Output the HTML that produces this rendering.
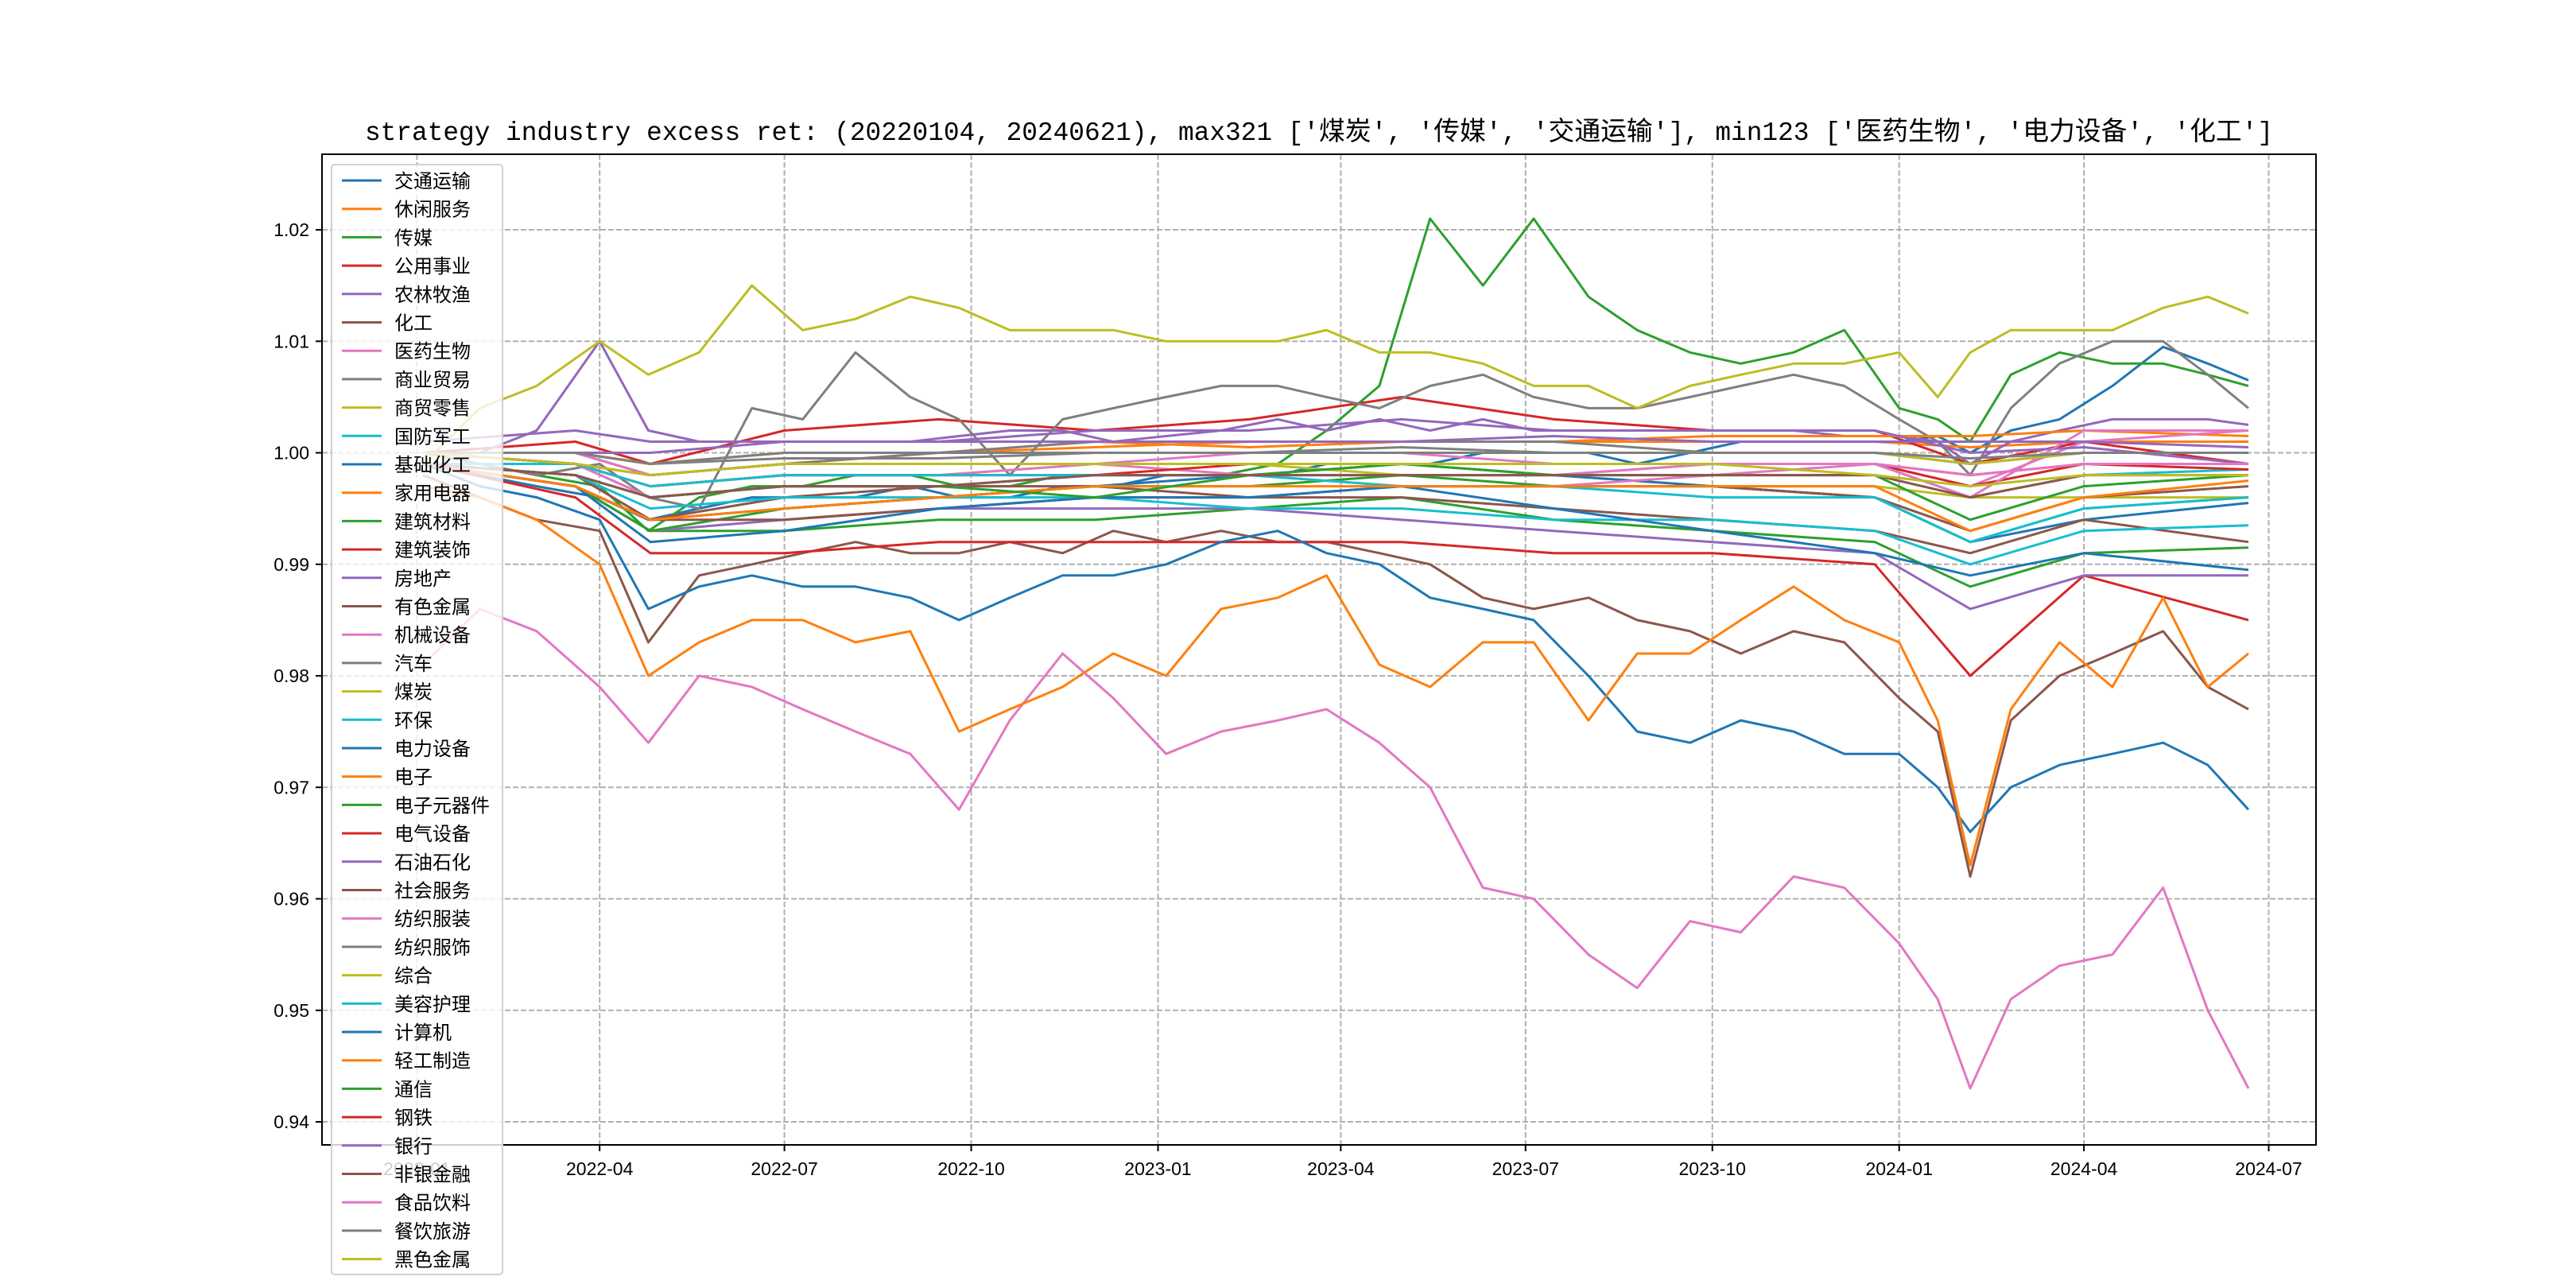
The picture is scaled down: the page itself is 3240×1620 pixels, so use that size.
<!DOCTYPE html>
<html><head><meta charset="utf-8">
<style>
html,body{margin:0;padding:0;background:#fff;}
svg{display:block;font-family:"Liberation Sans","Noto Sans CJK SC",sans-serif;}
</style></head>
<body>
<svg id="chart" width="3240" height="1620" viewBox="0 0 3240 1620" xmlns="http://www.w3.org/2000/svg">
<rect x="0" y="0" width="3240" height="1620" fill="#fff"/>
<text x="1659" y="176" text-anchor="middle" font-size="33" textLength="2400" lengthAdjust="spacingAndGlyphs" fill="#000" style="font-family:'Liberation Mono','Noto Sans CJK SC',monospace">strategy industry excess ret: (20220104, 20240621), max321 ['煤炭', '传媒', '交通运输'], min123 ['医药生物', '电力设备', '化工']</text>
<defs><clipPath id="plotclip"><rect x="405" y="194" width="2508" height="1246"/></clipPath></defs>
<g id="grid"></g>
<g id="ticks"></g>
<g id="lines" clip-path="url(#plotclip)"></g>
<rect x="405" y="194" width="2508" height="1246" fill="none" stroke="#000" stroke-width="2"/>
<g id="legend"></g>
</svg>
<script>
const colors = ['#1f77b4','#ff7f0e','#2ca02c','#d62728','#9467bd','#8c564b','#e377c2','#7f7f7f','#bcbd22','#17becf'];
const industries = ['交通运输','休闲服务','传媒','公用事业','农林牧渔','化工','医药生物','商业贸易','商贸零售','国防军工','基础化工','家用电器','建筑材料','建筑装饰','房地产','有色金属','机械设备','汽车','煤炭','环保','电力设备','电子','电子元器件','电气设备','石油石化','社会服务','纺织服装','纺织服饰','综合','美容护理','计算机','轻工制造','通信','钢铁','银行','非银金融','食品饮料','餐饮旅游','黑色金属'];
const mainDates = ['2022-01-04','2022-02-01','2022-03-01','2022-04-01','2022-04-25','2022-05-20','2022-06-15','2022-07-10','2022-08-05','2022-09-01','2022-09-25','2022-10-20','2022-11-15','2022-12-10','2023-01-05','2023-02-01','2023-03-01','2023-03-25','2023-04-20','2023-05-15','2023-06-10','2023-07-05','2023-08-01','2023-08-25','2023-09-20','2023-10-15','2023-11-10','2023-12-05','2024-01-01','2024-01-20','2024-02-05','2024-02-25','2024-03-20','2024-04-15','2024-05-10','2024-06-01','2024-06-21'];
const fillDates = ['2022-01-04','2022-03-20','2022-04-26','2022-07-01','2022-09-15','2022-12-01','2023-02-15','2023-05-01','2023-07-15','2023-10-01','2023-12-20','2024-02-05','2024-04-01','2024-06-21'];
const s交通运输 = [0.999,0.998,0.997,0.996,0.994,0.995,0.996,0.996,0.996,0.997,0.996,0.996,0.997,0.997,0.998,0.998,0.998,0.999,0.999,0.999,1.0,1.0,1.0,0.999,1.0,1.001,1.001,1.001,1.001,1.0015,1.0,1.002,1.003,1.006,1.0095,1.008,1.0065];
const s传媒 = [1.0,0.999,0.998,0.997,0.993,0.996,0.997,0.997,0.998,0.998,0.997,0.997,0.998,0.998,0.998,0.998,0.999,1.002,1.006,1.021,1.015,1.021,1.014,1.011,1.009,1.008,1.009,1.011,1.004,1.003,1.001,1.007,1.009,1.008,1.008,1.007,1.006];
const s农林牧渔 = [1.0,1.0,1.002,1.010,1.002,1.001,1.001,1.001,1.001,1.001,1.0015,1.002,1.002,1.001,1.0015,1.002,1.003,1.002,1.003,1.002,1.003,1.002,1.002,1.002,1.002,1.002,1.002,1.0015,1.0015,1.001,0.999,1.001,1.002,1.003,1.003,1.003,1.0025];
const s化工 = [0.998,0.996,0.994,0.993,0.983,0.989,0.990,0.991,0.992,0.991,0.991,0.992,0.991,0.993,0.992,0.993,0.992,0.992,0.991,0.990,0.987,0.986,0.987,0.985,0.984,0.982,0.984,0.983,0.978,0.975,0.962,0.976,0.980,0.982,0.984,0.979,0.977];
const s医药生物 = [0.981,0.986,0.984,0.979,0.974,0.980,0.979,0.977,0.975,0.973,0.968,0.976,0.982,0.978,0.973,0.975,0.976,0.977,0.974,0.970,0.961,0.960,0.955,0.952,0.958,0.957,0.962,0.961,0.956,0.951,0.943,0.951,0.954,0.955,0.961,0.950,0.943];
const s商业贸易 = [1.0,0.999,0.998,0.999,0.996,0.995,1.004,1.003,1.009,1.005,1.003,0.998,1.003,1.004,1.005,1.006,1.006,1.005,1.004,1.006,1.007,1.005,1.004,1.004,1.005,1.006,1.007,1.006,1.003,1.001,0.998,1.004,1.008,1.010,1.010,1.007,1.004];
const s煤炭 = [0.999,1.004,1.006,1.010,1.007,1.009,1.015,1.011,1.012,1.014,1.013,1.011,1.011,1.011,1.010,1.010,1.010,1.011,1.009,1.009,1.008,1.006,1.006,1.004,1.006,1.007,1.008,1.008,1.009,1.005,1.009,1.011,1.011,1.011,1.013,1.014,1.0125];
const s电力设备 = [0.999,0.997,0.996,0.994,0.986,0.988,0.989,0.988,0.988,0.987,0.985,0.987,0.989,0.989,0.990,0.992,0.993,0.991,0.990,0.987,0.986,0.985,0.980,0.975,0.974,0.976,0.975,0.973,0.973,0.970,0.966,0.970,0.972,0.973,0.974,0.972,0.968];
const s电子 = [0.997,0.996,0.994,0.990,0.980,0.983,0.985,0.985,0.983,0.984,0.975,0.977,0.979,0.982,0.980,0.986,0.987,0.989,0.981,0.979,0.983,0.983,0.976,0.982,0.982,0.985,0.988,0.985,0.983,0.976,0.963,0.977,0.983,0.979,0.987,0.979,0.982];
const s休闲服务 = [1.0,1.0,0.998,0.999,1.0,1.0005,1.001,1.001,1.001,1.001,1.001,1.0005,1.001,1.001];
const s公用事业 = [1.0,1.001,0.999,1.002,1.003,1.002,1.003,1.005,1.003,1.002,1.002,0.999,1.001,0.999];
const s商贸零售 = [1.0,0.999,0.997,0.998,0.998,0.999,0.999,0.998,0.998,0.997,0.997,0.996,0.996,0.996];
const s国防军工 = [1.0,0.999,0.996,0.997,0.997,0.998,0.998,0.998,0.998,0.999,0.999,0.996,0.998,0.9985];
const s基础化工 = [0.999,0.997,0.994,0.995,0.996,0.997,0.998,0.999,0.998,0.997,0.996,0.992,0.994,0.9955];
const s家用电器 = [1.0,1.0,0.999,1.0,1.0,1.001,1.0005,1.001,1.001,1.0015,1.0015,1.0015,1.002,1.0015];
const s建筑材料 = [0.999,0.997,0.993,0.993,0.994,0.994,0.995,0.996,0.994,0.993,0.992,0.988,0.991,0.9915];
const s建筑装饰 = [0.999,0.996,0.991,0.991,0.992,0.992,0.992,0.992,0.991,0.991,0.990,0.980,0.989,0.985];
const s房地产 = [0.999,0.997,0.993,0.994,0.995,0.995,0.995,0.994,0.993,0.992,0.991,0.986,0.989,0.989];
const s有色金属 = [0.999,0.998,0.994,0.996,0.997,0.997,0.996,0.996,0.995,0.994,0.993,0.991,0.994,0.992];
const s机械设备 = [1.0,0.999,0.997,0.998,0.998,0.999,0.998,0.998,0.998,0.999,0.999,0.997,1.001,1.002];
const s汽车 = [1.0,1.0,0.999,0.9995,0.9995,1.0,1.0,1.0005,1.0,1.0,1.0,0.999,1.0,1.0];
const s环保 = [0.999,0.998,0.995,0.996,0.996,0.996,0.995,0.995,0.994,0.994,0.993,0.990,0.993,0.9935];
const s电子元器件 = [0.999,0.997,0.993,0.995,0.996,0.997,0.997,0.998,0.997,0.997,0.996,0.992,0.995,0.996];
const s电气设备 = [1.0,0.999,0.997,0.998,0.998,0.998,0.999,0.999,0.999,0.999,0.999,0.997,0.999,0.999];
const s石油石化 = [1.001,1.002,1.001,1.001,1.001,1.002,1.002,1.003,1.002,1.002,1.002,1.0,1.0005,0.999];
const s社会服务 = [0.999,0.997,0.994,0.994,0.995,0.996,0.996,0.997,0.997,0.997,0.996,0.993,0.996,0.997];
const s纺织服装 = [1.0,0.999,0.996,0.997,0.997,0.998,0.998,0.997,0.997,0.998,0.999,0.996,1.002,1.002];
const s纺织服饰 = [1.0,1.0,0.998,0.999,1.0,1.001,1.001,1.001,1.001,1.0,1.0,0.999,1.0,1.0];
const s综合 = [1.0,1.0,0.999,1.0,1.0,1.0,1.0,1.0,1.0,1.0,1.0,0.999,1.0,1.0];
const s美容护理 = [0.999,0.999,0.997,0.998,0.998,0.998,0.998,0.997,0.997,0.996,0.996,0.992,0.995,0.996];
const s计算机 = [0.999,0.997,0.992,0.993,0.995,0.996,0.996,0.997,0.995,0.993,0.991,0.989,0.991,0.9895];
const s轻工制造 = [0.999,0.997,0.994,0.995,0.996,0.997,0.997,0.997,0.997,0.997,0.997,0.993,0.996,0.9975];
const s通信 = [0.999,0.998,0.996,0.997,0.997,0.996,0.998,0.999,0.998,0.998,0.998,0.994,0.997,0.998];
const s钢铁 = [1.0,0.999,0.998,0.999,0.999,0.999,0.999,0.999,0.999,0.999,0.999,0.998,0.999,0.9985];
const s银行 = [1.0,1.0,1.0,1.001,1.001,1.001,1.001,1.001,1.0015,1.001,1.001,1.001,1.001,1.0005];
const s非银金融 = [0.999,0.998,0.996,0.997,0.997,0.998,0.998,0.998,0.998,0.998,0.998,0.996,0.998,0.998];
const s食品饮料 = [1.0,1.0,0.998,0.999,0.999,0.999,1.0,1.0,0.999,0.999,0.999,0.998,0.999,0.999];
const s餐饮旅游 = [1.0,1.0,0.999,1.0,1.0,1.0,1.0,1.0,1.0,1.0,1.0,0.9995,1.0,1.0];
const s黑色金属 = [1.0,0.999,0.998,0.999,0.999,0.999,0.999,0.999,0.999,0.999,0.998,0.997,0.998,0.998];
const yTicks = [0.94,0.95,0.96,0.97,0.98,0.99,1.00,1.01,1.02];
const yTickLabels = ['0.94','0.95','0.96','0.97','0.98','0.99','1.00','1.01','1.02'];
const xTicks = ['2022-01-01','2022-04-01','2022-07-01','2022-10-01','2023-01-01','2023-04-01','2023-07-01','2023-10-01','2024-01-01','2024-04-01','2024-07-01'];
const xTickLabels = ['2022-01','2022-04','2022-07','2022-10','2023-01','2023-04','2023-07','2023-10','2024-01','2024-04','2024-07'];

const seriesMap = {'交通运输':[s交通运输,mainDates],'休闲服务':[s休闲服务,fillDates],'传媒':[s传媒,mainDates],'公用事业':[s公用事业,fillDates],'农林牧渔':[s农林牧渔,mainDates],'化工':[s化工,mainDates],'医药生物':[s医药生物,mainDates],'商业贸易':[s商业贸易,mainDates],'商贸零售':[s商贸零售,fillDates],'国防军工':[s国防军工,fillDates],'基础化工':[s基础化工,fillDates],'家用电器':[s家用电器,fillDates],'建筑材料':[s建筑材料,fillDates],'建筑装饰':[s建筑装饰,fillDates],'房地产':[s房地产,fillDates],'有色金属':[s有色金属,fillDates],'机械设备':[s机械设备,fillDates],'汽车':[s汽车,fillDates],'煤炭':[s煤炭,mainDates],'环保':[s环保,fillDates],'电力设备':[s电力设备,mainDates],'电子':[s电子,mainDates],'电子元器件':[s电子元器件,fillDates],'电气设备':[s电气设备,fillDates],'石油石化':[s石油石化,fillDates],'社会服务':[s社会服务,fillDates],'纺织服装':[s纺织服装,fillDates],'纺织服饰':[s纺织服饰,fillDates],'综合':[s综合,fillDates],'美容护理':[s美容护理,fillDates],'计算机':[s计算机,fillDates],'轻工制造':[s轻工制造,fillDates],'通信':[s通信,fillDates],'钢铁':[s钢铁,fillDates],'银行':[s银行,fillDates],'非银金融':[s非银金融,fillDates],'食品饮料':[s食品饮料,fillDates],'餐饮旅游':[s餐饮旅游,fillDates],'黑色金属':[s黑色金属,fillDates]};

const NS = 'http://www.w3.org/2000/svg';
const PL=405, PR=2913, PT=194, PB=1440;
const T0 = Date.parse('2022-04-01'), T1 = Date.parse('2024-07-01');
const X0 = 754.2, X1 = 2853.5;
function xScale(d){ return X0 + (Date.parse(d)-T0)/(T1-T0)*(X1-X0); }
function yScale(v){ return 289 + (1.02 - v)*14025; }
function mk(tag, attrs){ const e=document.createElementNS(NS,tag); for(const k in attrs) e.setAttribute(k,attrs[k]); return e; }

const grid=document.getElementById('grid'), ticks=document.getElementById('ticks');
yTicks.forEach((v,i)=>{
  const y=yScale(v);
  const g=mk('line',{x1:PL,x2:PR,y1:y,y2:y,stroke:'#b0b0b0','stroke-width':2,'stroke-dasharray':'7,3'});
  
  
  grid.appendChild(g);
  const t=mk('line',{x1:PL-8,x2:PL,y1:y,y2:y,stroke:'#000','stroke-width':2});
  
  
  ticks.appendChild(t);
  const l=mk('text',{x:PL-16,y:y+8,'text-anchor':'end','font-size':23,fill:'#000'});
  
  
  l.textContent=yTickLabels[i]; ticks.appendChild(l);
});
xTicks.forEach((d,i)=>{
  const x=xScale(d);
  const g=mk('line',{x1:x,x2:x,y1:PT,y2:PB,stroke:'#b0b0b0','stroke-width':2,'stroke-dasharray':'7,3'});
  
  
  grid.appendChild(g);
  const t=mk('line',{x1:x,x2:x,y1:PB,y2:PB+8,stroke:'#000','stroke-width':2});
  
  
  ticks.appendChild(t);
  const l=mk('text',{x:x,y:PB+38,'text-anchor':'middle','font-size':23,fill:'#000'});
  
  
  l.textContent=xTickLabels[i]; ticks.appendChild(l);
});

const linesG=document.getElementById('lines');
industries.forEach((name,i)=>{
  const [vals,dates]=seriesMap[name];
  const pts=vals.map((v,k)=>xScale(dates[k]).toFixed(1)+','+yScale(v).toFixed(1)).join(' ');
  const p=mk('polyline',{points:pts,fill:'none',stroke:colors[i%10],'stroke-width':3,'stroke-linejoin':'round'});
  
  
  linesG.appendChild(p);
});

const leg=document.getElementById('legend');
const box=mk('rect',{x:417,y:207,width:215,height:1396,rx:4,fill:'#fff','fill-opacity':0.8,stroke:'#d0d0d0','stroke-width':2});


leg.appendChild(box);
industries.forEach((name,i)=>{
  const cy=227+i*35.7;
  const ln=mk('line',{x1:430,x2:480,y1:cy,y2:cy,stroke:colors[i%10],'stroke-width':3});
  
  
  leg.appendChild(ln);
  const t=mk('text',{x:496,y:cy+9,'font-size':24,fill:'#000'});
  
  
  t.textContent=name; leg.appendChild(t);
});
</script>
</body></html>
